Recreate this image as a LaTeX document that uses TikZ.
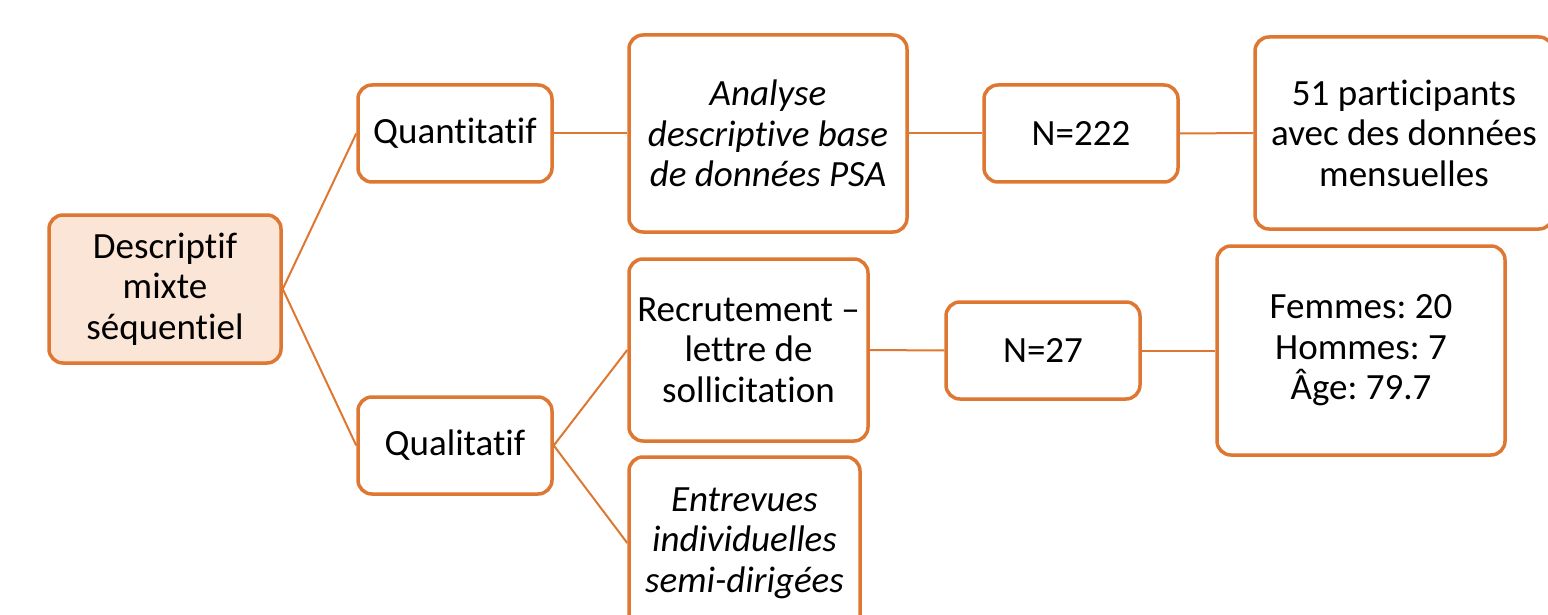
\documentclass[tikz,border=0pt]{standalone}
\usepackage{fontspec}
\setmainfont[Ligatures=NoCommon]{Carlito}
\frenchspacing
\definecolor{org}{HTML}{DD7731}
\definecolor{orgfill}{HTML}{FBE5D6}
\begin{document}
\begin{tikzpicture}[x=1pt,y=-1pt,
 box/.style={draw=org, line width=3.5pt, rounded corners=14pt, fill=white, align=center, inner sep=0pt, font=\fontsize{37}{40.5}\selectfont},
 link/.style={draw=org, line width=2pt}]
\useasboundingbox (0,0) rectangle (1548,615);
\clip (0,0) rectangle (1548,615);
\node[box, fill=orgfill, minimum width=232pt, minimum height=148pt] (desc) at (165,289) {Descriptif\\mixte\\séquentiel};
\node[box, minimum width=194pt, minimum height=97pt] (quant) at (455,133.5) {Quantitatif};
\node[box, minimum width=194pt, minimum height=97pt] (qual) at (455,445.5) {Qualitatif};
\node[box, minimum width=278pt, minimum height=197pt] (anal) at (768,133.5) {\itshape Analyse\\\itshape descriptive base\\\itshape de données PSA};
\node[box, minimum width=194pt, minimum height=97pt] (n222) at (1081,133.5) {N=222};
\node[box, minimum width=298pt, minimum height=192pt] (part) at (1404,133) {51 participants\\avec des données\\mensuelles};
\node[box, minimum width=239pt, minimum height=182pt] (recr) at (748.5,350) {Recrutement –\\lettre de\\sollicitation};
\node[box, minimum width=194pt, minimum height=97pt] (n27) at (1043,350.5) {N=27};
\node[box, minimum width=288pt, minimum height=209pt] (fem) at (1361,350.5) {Femmes: 20\\Hommes: 7\\Âge: 79.7};
\node[box, minimum width=231pt, minimum height=172pt] (entr) at (744.5,543) {\itshape Entrevues\\\itshape individuelles\\\itshape semi-dirigées};
\draw[link] (desc.east) -- (quant.west);
\draw[link] (desc.east) -- (qual.west);
\draw[link] (quant.east) -- (anal.west);
\draw[link] (anal.east) -- (n222.west);
\draw[link] (n222.east) -- (part.west);
\draw[link] (qual.east) -- (recr.west);
\draw[link] (qual.east) -- (entr.west);
\draw[link] (recr.east) -- (n27.west);
\draw[link] (n27.east) -- (fem.west);
\end{tikzpicture}
\end{document}
